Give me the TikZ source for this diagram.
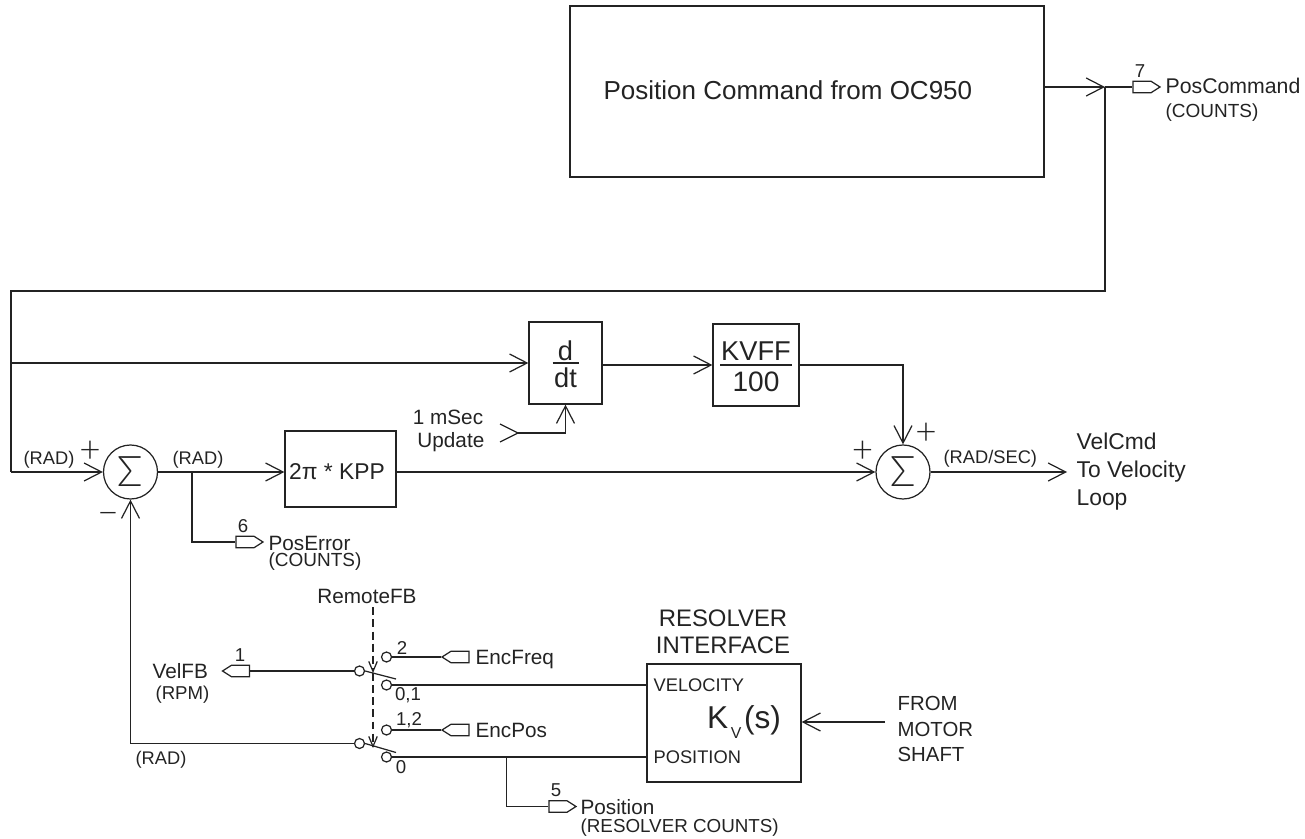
\documentclass[tikz,border=0pt]{standalone}
\usepackage{fontspec}
\setmainfont{Liberation Sans}
\newfontfamily\thinsf{Lato Light}
\usepackage{xcolor}
\usetikzlibrary{positioning,arrows.meta,calc,shapes.symbols}
\definecolor{ink}{RGB}{35,35,35}
\newcommand{\sz}[1]{\fontsize{#1}{#1}\selectfont}
\newcommand{\szl}[2]{\fontsize{#1}{#2}\selectfont}

\begin{document}
\begin{tikzpicture}[ink, line width=0.7pt,
      box/.style={draw, minimum width=#1, inner sep=0pt},
      arr/.style={-{Straight Barb[length=3.5mm,width=3.6mm]}},
      darr/.style={-{Straight Barb[length=2mm,width=1.7mm]}, dash pattern=on 4.5pt off 2.4pt},
      sumnode/.style={draw, circle, minimum size=1.08cm, inner sep=0pt, font=\thinsf\sz{24}},
      tagr/.style={draw, signal, signal to=east, signal pointer angle=65, minimum width=0.54cm, minimum height=0.23cm, inner sep=0pt},
      tagl/.style={draw, signal, signal to=west, signal pointer angle=65, minimum width=0.54cm, minimum height=0.23cm, inner sep=0pt},
      contact/.style={draw, circle, minimum size=0.2cm, inner sep=0pt},
      lab/.style={inner sep=0pt, anchor=west, font=\sz{11.8}},
      small/.style={inner sep=0pt, anchor=west, font=\sz{10.4}},
      cnt/.style={inner sep=0pt, anchor=west, font=\sz{10.8}},
      num/.style={inner sep=0pt, font=\sz{10.6}},
      sgn/.style={inner sep=0pt, font=\thinsf\sz{21}},
      frac/.style={inner sep=0pt, font=\sz{15.5}}]
    \useasboundingbox (0,0) rectangle (26.1,-16.78);

    % command from the controller
    \node[box=9.48cm, minimum height=3.42cm] (poscmdbox) at (16.14,-1.83) {};
    \node[inner sep=0pt, anchor=west, font=\sz{14.8}] (poscmdtxt) at (12.06,-1.8) {Position Command from OC950};
    \coordinate (pc) at (22.1,-1.74);
    \node[tagr] (tag7) at (22.84,-1.74) {};
    \node[num] (n7) at (22.8,-1.42) {7};
    \node[lab, font=\sz{12.1}] (poscmd) at (23.3,-1.72) {PosCommand};
    \node[cnt] (poscnt) at (23.3,-2.25) {(COUNTS)};
    \draw[arr] (poscmdbox.east |- pc) -- (pc);
    \draw (pc) -- (tag7.west);

    % forward path
    \node[sumnode] (sumA) at (2.61,-9.44) {Σ};
    \node[sumnode] (sumB) at (18.06,-9.44) {Σ};
    \node[box=2.22cm, minimum height=1.52cm] (kpp) at (6.81,-9.38) {};
    \node[inner sep=0pt, font=\sz{13}] (kpptxt) at (6.74,-9.43) {2π * KPP};
    \node[box=1.46cm, minimum height=1.64cm] (ddt) at (11.31,-7.26) {};
    \node[box=1.72cm, minimum height=1.64cm] (kvff) at (15.12,-7.3) {};
    \node[frac] (dtop) at (11.31,-7.02) {d};
    \node[frac] (dbot) at (11.31,-7.56) {dt};
    \node[frac] (ktop) at (15.12,-7.02) {KVFF};
    \node[frac, font=\sz{16}] (kbot) at (15.12,-7.64) {100};
    \draw ($(ddt.center)+(-0.26,0)$) -- ($(ddt.center)+(0.26,0)$);
    \draw ($(kvff.center)+(-0.72,0)$) -- ($(kvff.center)+(0.72,0)$);

    \coordinate (fbtop) at (22.1,-5.82);
    \coordinate (fbleft) at (0.22,-5.82);
    \coordinate (fbmid) at (0.22,-7.26);
    \coordinate (fbin) at (0.22,-9.44);
    \draw (pc) -- (fbtop) -- (fbleft) -- (fbin);
    \draw[arr] (fbin) -- (sumA.west);
    \draw[arr] (fbmid) -- (ddt.west);
    \draw[arr] (sumA.east) -- (kpp.west |- sumA);
    \draw[arr] (kpp.east |- sumB) -- (sumB.west);
    \draw[arr] (ddt.east |- kvff) -- (kvff.west);
    \draw[arr] (kvff.east) -| (sumB.north);

    \coordinate (upd) at (10.36,-8.66);
    \draw ($(upd)+(-0.36,0.18)$) -- (upd) -- ($(upd)+(-0.36,-0.18)$);
    \draw[arr] (upd) -| (ddt.south);
    \node[inner sep=0pt, align=center, font=\szl{11.8}{13}] (updtxt) at (8.96,-8.61) {1 mSec\\\ Update};

    \coordinate (vout) at (21.34,-9.44);
    \draw[arr] (sumB.east) -- (vout);
    \node[inner sep=0pt, anchor=west, align=left, font=\szl{13}{15.9}] (veltxt) at (21.52,-9.44) {VelCmd\\To Velocity\\Loop};

    \node[small] (radA) at (0.46,-9.2) {(RAD)};
    \node[small] (radB) at (3.44,-9.2) {(RAD)};
    \node[small] (radsec) at (18.86,-9.18) {(RAD/SEC)};
    \node[sgn] (plusA) at (1.8,-9.04) {+};
    \node[sgn] (minusA) at (2.16,-10.38) {−};
    \node[sgn] (plusB) at (17.25,-9.04) {+};
    \node[sgn] (plusC) at (18.52,-8.68) {+};

    % error test point
    \coordinate (errbr) at (3.84,-9.44);
    \node[tagr] (tag6) at (4.9,-10.84) {};
    \node[num] (n6) at (4.86,-10.52) {6};
    \node[lab] (errtxt) at (5.36,-10.86) {PosError};
    \node[cnt] (errcnt) at (5.36,-11.24) {(COUNTS)};
    \draw (errbr) |- (tag6.west);

    % feedback selector
    \node[inner sep=0pt, font=\sz{11.8}] (remote) at (7.34,-11.92) {RemoteFB};
    \node[contact] (cvel) at (7.19,-13.42) {};
    \node[contact] (cpos) at (7.19,-14.87) {};
    \node[contact] (c2) at (7.73,-13.14) {};
    \node[contact] (c01) at (7.73,-13.7) {};
    \node[contact] (c12) at (7.73,-14.6) {};
    \node[contact] (c0) at (7.73,-15.14) {};
    \coordinate (bladeA) at (7.92,-13.58);
    \coordinate (bladeB) at (7.92,-15.05);
    \draw (cvel.east) -- (bladeA);
    \draw (cpos.east) -- (bladeB);
    \coordinate (swa) at (7.46,-13.46);
    \coordinate (swb) at (7.46,-14.96);
    \draw[darr, shorten <=2pt] (remote.south -| swa) -- (swa);
    \draw[darr] (swa) -- (swb);

    \node[tagl] (tag1) at (4.81,-13.42) {};
    \node[num] (n1) at (4.8,-13.1) {1};
    \node[inner sep=0pt, anchor=east, font=\sz{11.8}] (velfb) at (4.17,-13.42) {VelFB};
    \node[inner sep=0pt, anchor=east, font=\sz{10.6}] (velrpm) at (4.2,-13.9) {(RPM)};
    \draw (cvel.west) -- (tag1.east);

    \node[tagl] (tagf) at (9.2,-13.14) {};
    \node[tagl] (tagp) at (9.2,-14.6) {};
    \node[lab] (encf) at (9.5,-13.19) {EncFreq};
    \node[lab] (encp) at (9.5,-14.6) {EncPos};
    \draw (c2.east) -- (tagf.west);
    \draw (c12.east) -- (tagp.west);
    \node[num] (n2) at (8.04,-12.96) {2};
    \node[num] (n01) at (8.16,-13.9) {0,1};
    \node[num] (n12) at (8.18,-14.4) {1,2};
    \node[num] (n0) at (8.02,-15.34) {0};

    % resolver block
    \node[box=3.08cm, minimum height=2.36cm] (resolver) at (14.48,-14.46) {};
    \node[inner sep=0pt, align=center, font=\szl{13.6}{15.3}] (restxt) at (14.46,-12.63) {RESOLVER\\INTERFACE};
    \node[small] (velin) at (13.06,-13.7) {VELOCITY};
    \node[small] (posin) at (13.06,-15.14) {POSITION};
    \node[inner sep=0pt, font=\sz{18}] (kv) at (14.88,-14.44) {K\kern1.5pt\raisebox{-0.55ex}{\sz{9}V}\kern1.5pt(s)};
    \draw (c01.east) -- (c01.east -| resolver.west);
    \draw (c0.east) -- (c0.east -| resolver.west);
    \coordinate (shaft) at (17.7,-14.44);
    \draw[arr] (shaft) -- (shaft -| resolver.east);
    \node[inner sep=0pt, anchor=west, align=left, font=\szl{11.6}{14.7}] (shafttxt) at (17.94,-14.58) {FROM\\MOTOR\\SHAFT};

    \coordinate (posbr) at (10.13,-15.14);
    \node[tagr] (tag5) at (11.16,-16.13) {};
    \node[num] (n5) at (11.12,-15.8) {5};
    \node[lab] (postxt) at (11.6,-16.14) {Position};
    \node[cnt, font=\sz{10.7}] (poscnt2) at (11.6,-16.56) {(RESOLVER COUNTS)};
    \draw (posbr) |- (tag5.west);

    % back to the first summing point
    \coordinate (fbcorner) at (2.61,-14.87);
    \draw (cpos.west) -- (fbcorner);
    \draw[arr] (fbcorner) -- (sumA.south);
    \node[small] (radC) at (2.7,-15.2) {(RAD)};
  \end{tikzpicture}
\end{document}
